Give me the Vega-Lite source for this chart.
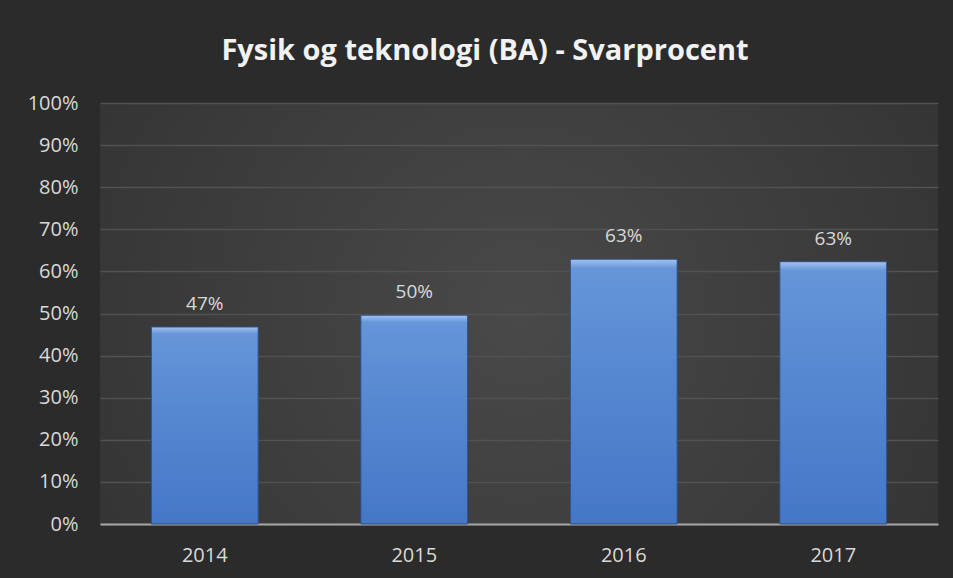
{
  "$schema": "https://vega.github.io/schema/vega-lite/v6.json",
  "width": 838,
  "height": 421,
  "autosize": {"type": "none"},
  "padding": {"left": 100, "top": 103, "right": 15, "bottom": 54},
  "background": "#2b2b2b",
  "title": {
    "text": "Fysik og teknologi (BA) - Svarprocent",
    "font": "Open Sans",
    "fontSize": 29,
    "fontWeight": "bold",
    "color": "#f2f2f2",
    "anchor": "middle",
    "offset": 27,
    "dx": -34
  },
  "data": {
    "values": [
      {"year": "2014", "rate": 0.468, "label": "47%"},
      {"year": "2015", "rate": 0.496, "label": "50%"},
      {"year": "2016", "rate": 0.629, "label": "63%"},
      {"year": "2017", "rate": 0.623, "label": "63%"}
    ]
  },
  "encoding": {
    "x": {
      "field": "year",
      "type": "nominal",
      "scale": {"paddingInner": 0.49, "paddingOuter": 0.245},
      "axis": {
        "title": null,
        "labelAngle": 0,
        "labelFont": "Open Sans",
        "labelFontSize": 20,
        "labelColor": "#d9d9d9",
        "labelPadding": 21,
        "ticks": false,
        "domainColor": "#a6a6a6",
        "domainWidth": 2
      }
    },
    "y": {
      "field": "rate",
      "type": "quantitative",
      "scale": {"domain": [0, 1]},
      "axis": {
        "title": null,
        "format": ".0%",
        "values": [0, 0.1, 0.2, 0.3, 0.4, 0.5, 0.6, 0.7, 0.8, 0.9, 1],
        "labelOverlap": false,
        "labelFont": "Open Sans",
        "labelFontSize": 20,
        "labelColor": "#d9d9d9",
        "labelPadding": 22,
        "ticks": false,
        "domain": false,
        "grid": true,
        "gridColor": "#525252",
        "gridWidth": 1.5
      }
    }
  },
  "layer": [
    {
      "mark": {
        "type": "bar",
        "stroke": "#2d4f8a",
        "strokeWidth": 1,
        "fill": {
          "gradient": "linear",
          "x1": 0, "y1": 0, "x2": 0, "y2": 1,
          "stops": [
            {"offset": 0, "color": "#a3c4f0"},
            {"offset": 0.035, "color": "#6695d8"},
            {"offset": 0.4, "color": "#5789d2"},
            {"offset": 1, "color": "#4477c6"}
          ]
        }
      }
    },
    {
      "mark": {
        "type": "text",
        "font": "Open Sans",
        "fontSize": 19,
        "color": "#d9d9d9",
        "baseline": "bottom",
        "dy": -13
      },
      "encoding": {"text": {"field": "label"}}
    }
  ],
  "config": {
    "view": {
      "stroke": null,
      "fill": {
        "gradient": "radial",
        "x1": 0.5, "y1": 0.5, "r1": 0,
        "x2": 0.5, "y2": 0.5, "r2": 0.75,
        "stops": [
          {"offset": 0, "color": "#494949"},
          {"offset": 1, "color": "#2e2e2e"}
        ]
      }
    }
  }
}
